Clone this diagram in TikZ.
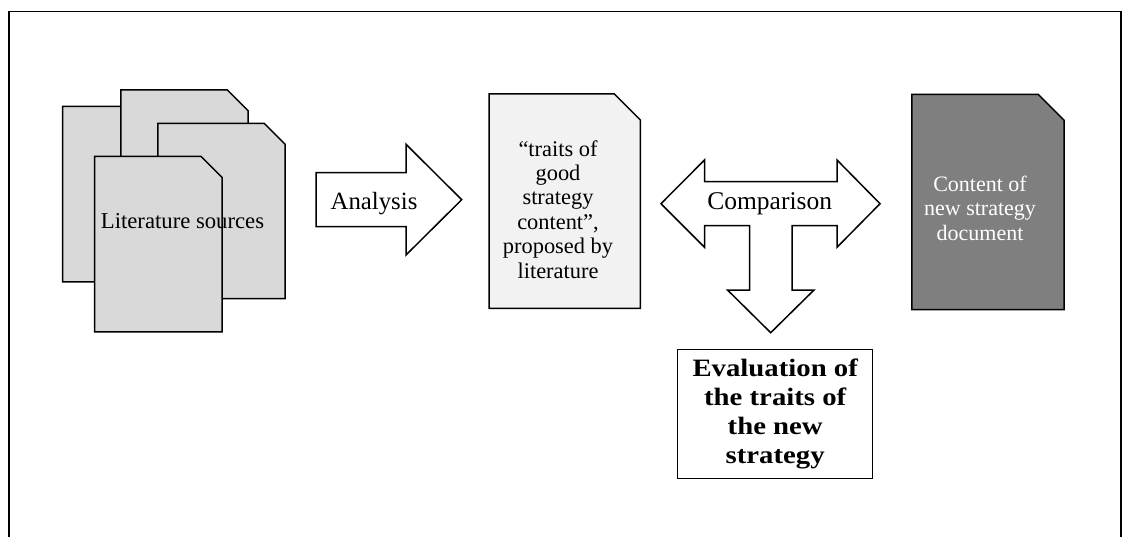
\documentclass[tikz,border=0pt]{standalone}
\usepackage{fontspec}
\setmainfont{Liberation Serif}
\newfontfamily\evalfont{Liberation Serif}[FakeStretch=1.15]
\definecolor{pagegray}{HTML}{D9D9D9}
\definecolor{midgray}{HTML}{F2F2F2}
\definecolor{darkdoc}{HTML}{7F7F7F}
\newcommand{\foldshape}[3]{\path[outline,fill=#2] (#1.north west) -- ([xshift=-#3]#1.north east) -- ([yshift=-#3]#1.north east) -- (#1.south east) -- (#1.south west) -- cycle;}
\begin{document}
\begin{tikzpicture}[x=1pt,y=-1pt,
  outline/.style={draw=black,line width=1.5pt,line join=miter},
  pageframe/.style={inner sep=0pt,minimum width=127pt,minimum height=175pt},
  docframe/.style={inner sep=0pt,minimum width=152pt,minimum height=215pt},
  plain/.style={inner sep=0pt,align=center},
]
\useasboundingbox (0,0) rectangle (1123,537);
% outer frame (open at bottom)
\coordinate (fbl) at (9,537);
\coordinate (ftl) at (9,11.5);
\coordinate (ftr) at (1121,11.5);
\coordinate (fbr) at (1121,537);
\draw[line width=1.5pt] (fbl) -- (ftl) -- (ftr) -- (fbr);

% literature pages
\node[pageframe] (p1) at (126.2,194.2) {};
\node[pageframe] (p2) at (184.5,177.5) {};
\node[pageframe] (p3) at (221.5,211) {};
\node[pageframe] (p4) at (158.4,244.2) {};
\foldshape{p1}{pagegray}{21pt}
\foldshape{p2}{pagegray}{21pt}
\foldshape{p3}{pagegray}{21pt}
\foldshape{p4}{pagegray}{21pt}
\node[plain,anchor=base,font=\fontsize{22.7}{24}\selectfont] (lit) at (182.5,228.3) {Literature sources};

% analysis arrow
\path[outline,fill=white] (316,172.7) -- (406,172.7) -- (406,144.3) -- (461.7,199.7) -- (406,255) -- (406,226.7) -- (316,226.7) -- cycle;
\node[plain,anchor=base,font=\fontsize{24.8}{26}\selectfont] (ana) at (374,209.3) {Analysis};

% middle document
\node[docframe,minimum width=151pt,minimum height=214pt] (mid) at (564.7,201.2) {};
\foldshape{mid}{midgray}{26pt}
\node[plain,font=\fontsize{22.4}{24.4}\selectfont] (midtext) at (558,209.3) {“traits of\\good\\strategy\\content”,\\proposed by\\literature};

% comparison T-arrow
\path[outline,fill=white] (661,203.7) -- (704.5,160) -- (704.5,181.7) -- (837,181.7) -- (837,160) -- (880,203.7) -- (837,247.3) -- (837,225.7) -- (792,225.7) -- (792,290) -- (814,290) -- (770.7,332.7) -- (727.5,290) -- (749.5,290) -- (749.5,225.7) -- (704.5,225.7) -- (704.5,247.3) -- cycle;
\node[plain,anchor=base,font=\fontsize{25.5}{27}\selectfont] (comp) at (769.7,209.5) {Comparison};

% right document
\node[docframe] (new) at (988,202) {};
\foldshape{new}{darkdoc}{26pt}
\node[plain,text=white,font=\fontsize{22}{24.15}\selectfont] (newtext) at (980,208.3) {Content of\\new strategy\\document};

% evaluation box
\node[draw,line width=1.5pt,fill=white,minimum width=195pt,minimum height=129pt,inner sep=0pt,align=center,font=\evalfont\bfseries\fontsize{25}{29}\selectfont] (eval) at (775.2,413.8) {Evaluation of\\the traits of\\the new\\strategy};
\end{tikzpicture}
\end{document}
